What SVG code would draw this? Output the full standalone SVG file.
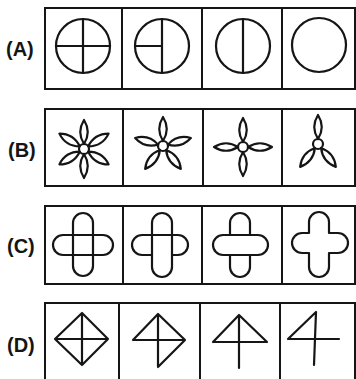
<svg xmlns="http://www.w3.org/2000/svg" width="356" height="379" viewBox="0 0 356 379">
  <defs>
    <style>
      .frame { fill: none; stroke: #151515; stroke-width: 2; }
      .fig { fill: none; stroke: #151515; stroke-width: 2.2; stroke-linejoin: round; stroke-linecap: round; }
      .label { font-family: "Liberation Sans", Arial, sans-serif; font-weight: bold; font-size: 20px; fill: #151515; }
    </style>
    <!-- one petal, pointing right from the hub -->
    <path id="petal" d="M5,0 Q17,-7.5 29,0 Q17,7.5 5,0 Z"/>
  </defs>
  <rect width="356" height="379" fill="#ffffff"/>

  <!-- Row A: circles losing their radii -->
  <g id="rowA">
    <text class="label" x="6" y="56">(A)</text>
    <path class="frame" d="M45,8 H355 V89 H45 Z M122,8 V89 M202,8 V89 M282,8 V89"/>
    <g id="a1" class="fig">
      <circle cx="83" cy="46" r="27"/>
      <path d="M83,19 V73 M56,46 H110"/>
    </g>
    <g id="a2" class="fig">
      <circle cx="162" cy="46" r="27"/>
      <path d="M162,19 V73 M135,46 H162"/>
    </g>
    <g id="a3" class="fig">
      <circle cx="243" cy="46" r="27"/>
      <path d="M243,19 V73"/>
    </g>
    <g id="a4" class="fig">
      <circle cx="319" cy="45" r="27"/>
    </g>
  </g>

  <!-- Row B: flowers losing petals -->
  <g id="rowB">
    <text class="label" x="8" y="157">(B)</text>
    <path class="frame" d="M45,109 H355 V186 H45 Z M123,109 V186 M203,109 V186 M282,109 V186"/>
    <g id="b1" class="fig" transform="translate(84,149)">
      <circle r="5"/>
      <use href="#petal" transform="rotate(-90)"/>
      <use href="#petal" transform="rotate(-32)"/>
      <use href="#petal" transform="rotate(32)"/>
      <use href="#petal" transform="rotate(90)"/>
      <use href="#petal" transform="rotate(148)"/>
      <use href="#petal" transform="rotate(212)"/>
    </g>
    <g id="b2" class="fig" transform="translate(163,146)">
      <circle r="5"/>
      <use href="#petal" transform="rotate(-90)"/>
      <use href="#petal" transform="rotate(-16)"/>
      <use href="#petal" transform="rotate(52)"/>
      <use href="#petal" transform="rotate(128)"/>
      <use href="#petal" transform="rotate(196)"/>
    </g>
    <g id="b3" class="fig" transform="translate(243,147)">
      <circle r="5"/>
      <use href="#petal" transform="rotate(-90)"/>
      <use href="#petal" transform="rotate(0)"/>
      <use href="#petal" transform="rotate(90)"/>
      <use href="#petal" transform="rotate(180)"/>
    </g>
    <g id="b4" class="fig" transform="translate(318,144)">
      <circle r="5"/>
      <use href="#petal" transform="rotate(-90)"/>
      <use href="#petal" transform="rotate(52)"/>
      <use href="#petal" transform="rotate(128)"/>
    </g>
  </g>

  <!-- Row C: crossed capsules losing inner lines -->
  <g id="rowC">
    <text class="label" x="7" y="253">(C)</text>
    <path class="frame" d="M45,206 H355 V284 H45 Z M123,206 V284 M202,206 V284 M282,206 V284"/>
    <g id="c1" class="fig">
      <rect x="73" y="213" width="20" height="63" rx="10"/>
      <rect x="53" y="235" width="60" height="20" rx="10"/>
    </g>
    <g id="c2" class="fig">
      <path d="M152,235 V223 A10,10 0 0 1 172,223 V235 H178 A10,10 0 0 1 178,255 H172 V267 A10,10 0 0 1 152,267 V255 H142 A10,10 0 0 1 142,235 Z"/>
      <path d="M152,235 H172 M152,235 V255 M172,235 V255"/>
    </g>
    <g id="c3" class="fig">
      <path d="M230,235 V223 A10,10 0 0 1 250,223 V235 H258 A10,10 0 0 1 258,255 H250 V267 A10,10 0 0 1 230,267 V255 H223 A10,10 0 0 1 223,235 Z"/>
      <path d="M230,235 H250 M230,255 H250"/>
    </g>
    <g id="c4" class="fig">
      <path d="M309,233 V222 A10,10 0 0 1 329,222 V233 H338 A10,10 0 0 1 338,253 H329 V267 A10,10 0 0 1 309,267 V253 H302 A10,10 0 0 1 302,233 Z"/>
    </g>
  </g>

  <!-- Row D: crossed diamonds losing sides -->
  <g id="rowD">
    <text class="label" x="7" y="352">(D)</text>
    <path class="frame" d="M45,379 V303 H355 V379 M119,303 V379 M200,303 V379 M280,303 V379"/>
    <g id="d1" class="fig">
      <path d="M82,313 L108,339 L82,365 L55,339 Z M82,313 V365 M55,339 H108"/>
    </g>
    <g id="d2" class="fig">
      <path d="M133,340 L158,314 L185,340 L158,367 M158,314 V367 M133,340 H185"/>
    </g>
    <g id="d3" class="fig">
      <path d="M213,342 L239,315 L267,342 M239,315 V368 M213,342 H267"/>
    </g>
    <g id="d4" class="fig">
      <path d="M288,339 L316,312 M316,312 L314,365 M288,339 H339"/>
    </g>
  </g>
</svg>
